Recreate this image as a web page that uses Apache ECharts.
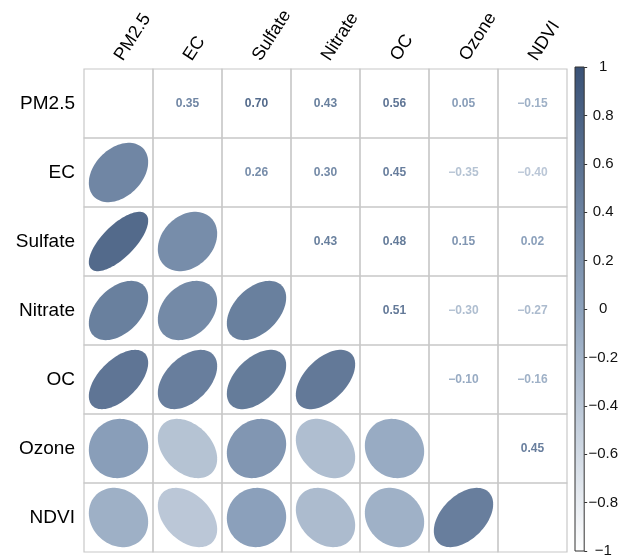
<!DOCTYPE html>
<html>
<head>
<meta charset="utf-8">
<script src="https://cdn.jsdelivr.net/npm/echarts@6/dist/echarts.min.js"></script>
<style>
  html, body { margin: 0; padding: 0; background: #ffffff; }
  #chart { width: 621px; height: 559px; }
</style>
</head>
<body>
<div id="chart"></div>
<script>
// Variables shown on both axes of the correlation matrix
const variables = ['PM2.5', 'EC', 'Sulfate', 'Nitrate', 'OC', 'Ozone', 'NDVI'];

// Pairwise correlations, one row per variable
const corPM25    = [ 1.00,  0.35,  0.70,  0.43,  0.56,  0.05, -0.15];
const corEC      = [ 0.35,  1.00,  0.26,  0.30,  0.45, -0.35, -0.40];
const corSulfate = [ 0.70,  0.26,  1.00,  0.43,  0.48,  0.15,  0.02];
const corNitrate = [ 0.43,  0.30,  0.43,  1.00,  0.51, -0.30, -0.27];
const corOC      = [ 0.56,  0.45,  0.48,  0.51,  1.00, -0.10, -0.16];
const corOzone   = [ 0.05, -0.35,  0.15, -0.30, -0.10,  1.00,  0.45];
const corNDVI    = [-0.15, -0.40,  0.02, -0.27, -0.16,  0.45,  1.00];

const corRows = [corPM25, corEC, corSulfate, corNitrate, corOC, corOzone, corNDVI];

// Colour scale range of the legend bar
const scaleMin = -1;
const scaleMax = 1;
const scaleStep = 0.2;

// Palette stops: white at -1, mid blue-grey at 0, dark slate at +1
const paletteStops = [
  { v: -1, c: [255, 255, 255] },
  { v:  0, c: [141, 162, 188] },
  { v:  1, c: [ 58,  82, 118] }
];

function colorFor(v) {
  let a = paletteStops[0], b = paletteStops[paletteStops.length - 1];
  for (let i = 0; i < paletteStops.length - 1; i++) {
    if (v >= paletteStops[i].v && v <= paletteStops[i + 1].v) {
      a = paletteStops[i]; b = paletteStops[i + 1]; break;
    }
  }
  const t = (v - a.v) / (b.v - a.v);
  const ch = a.c.map((x, k) => Math.round(x + (b.c[k] - x) * t));
  return 'rgb(' + ch.join(',') + ')';
}

function fmtSigned(s) {
  return s.replace('-', '\u2212');
}

// One data item per matrix cell: [column, row, correlation]
const cellData = [];
corRows.forEach((row, r) => {
  row.forEach((v, c) => cellData.push([c, r, v]));
});

const FONT = '"Liberation Sans", Arial, Helvetica, sans-serif';

const chart = echarts.init(document.getElementById('chart'), null, { renderer: 'canvas' });

chart.setOption({
  backgroundColor: '#ffffff',
  animation: false,
  grid: [
    { left: 84, top: 69, width: 483, height: 483 },
    { left: 575, top: 67, width: 17, height: 484 }
  ],
  xAxis: [
    {
      gridIndex: 0,
      type: 'category',
      position: 'top',
      data: variables,
      axisLine: { show: false },
      axisTick: { show: false },
      splitLine: { show: false },
      axisLabel: {
        interval: 0,
        rotate: -57,
        margin: 10,
        fontSize: 18,
        fontFamily: FONT,
        color: '#000000'
      }
    },
    {
      gridIndex: 1,
      type: 'category',
      data: [''],
      show: false
    }
  ],
  yAxis: [
    {
      gridIndex: 0,
      type: 'category',
      inverse: true,
      data: variables,
      axisLine: { show: false },
      axisTick: { show: false },
      splitLine: { show: false },
      axisLabel: {
        interval: 0,
        margin: 9,
        fontSize: 19,
        fontFamily: FONT,
        color: '#000000'
      }
    },
    {
      gridIndex: 1,
      type: 'value',
      position: 'right',
      min: scaleMin,
      max: scaleMax,
      interval: scaleStep,
      axisLine: { show: false },
      splitLine: { show: false },
      axisTick: { show: true, length: 3, lineStyle: { color: '#333333', width: 1 } },
      axisLabel: {
        margin: 19,
        align: 'center',
        fontSize: 15,
        fontFamily: FONT,
        color: '#111111',
        formatter: function (v) {
          const r = Math.round(v * 10) / 10;
          if (r === 0) return '0';
          return fmtSigned(String(r));
        }
      }
    }
  ],
  series: [
    {
      // Matrix cells: ellipses below the diagonal, numbers above it
      type: 'custom',
      xAxisIndex: 0,
      yAxisIndex: 0,
      data: cellData,
      silent: true,
      renderItem: function (params, api) {
        const c = api.value(0), r = api.value(1), v = api.value(2);
        const center = api.coord([c, r]);
        const size = api.size([1, 1]);
        const w = size[0], h = size[1];
        const children = [{
          type: 'rect',
          shape: { x: center[0] - w / 2, y: center[1] - h / 2, width: w, height: h },
          style: { fill: null, stroke: '#c8c8c8', lineWidth: 1.2 }
        }];
        if (r > c) {
          const d = Math.acos(v);
          const pts = [];
          const n = 90;
          for (let i = 0; i < n; i++) {
            const k = (i / n) * Math.PI * 2;
            pts.push([
              center[0] + 0.86 * Math.cos(k + d / 2) / 2 * w,
              center[1] - 0.86 * Math.cos(k - d / 2) / 2 * h
            ]);
          }
          children.push({
            type: 'polygon',
            shape: { points: pts },
            style: { fill: colorFor(v), stroke: null }
          });
        } else if (r < c) {
          children.push({
            type: 'text',
            style: {
              text: fmtSigned(v.toFixed(2)),
              x: center[0],
              y: center[1],
              align: 'center',
              verticalAlign: 'middle',
              fontSize: 12,
              fontWeight: 'bold',
              fontFamily: FONT,
              fill: colorFor(v)
            }
          });
        }
        return { type: 'group', children: children };
      }
    },
    {
      // Colour legend bar
      type: 'custom',
      xAxisIndex: 1,
      yAxisIndex: 1,
      data: [[0, scaleMin, scaleMax]],
      silent: true,
      renderItem: function (params, api) {
        const top = api.coord([0, api.value(2)]);
        const bottom = api.coord([0, api.value(1)]);
        const cs = params.coordSys;
        return {
          type: 'rect',
          shape: { x: cs.x, y: top[1], width: cs.width, height: bottom[1] - top[1] },
          style: {
            fill: {
              type: 'linear', x: 0, y: 0, x2: 0, y2: 1,
              colorStops: paletteStops.slice().reverse().map(s => ({
                offset: (scaleMax - s.v) / (scaleMax - scaleMin),
                color: colorFor(s.v)
              }))
            },
            stroke: '#333333',
            lineWidth: 1
          }
        };
      }
    }
  ]
});
</script>
</body>
</html>
